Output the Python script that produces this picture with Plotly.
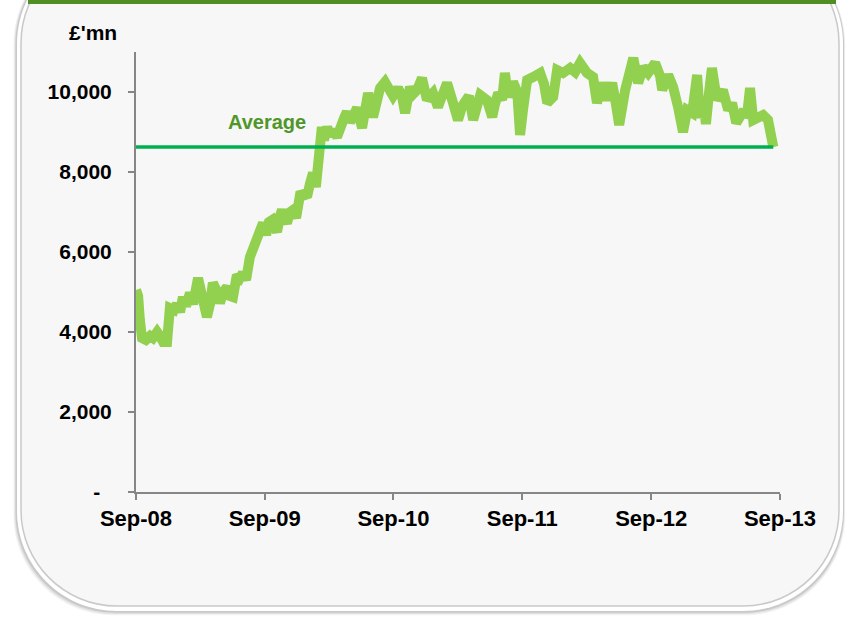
import pandas as pd
import plotly.graph_objects as go

# ---- data ----
start_date = "2008-09-01"
day_offsets = [0, 6, 11, 17, 28, 40, 48, 60, 68, 77, 88, 96, 108, 116, 125, 133, 142, 153, 162, 176,
               190, 201, 210, 218, 230, 238, 247, 258, 267, 275, 286, 295, 303, 312, 323, 337, 346, 355, 360, 369,
               377, 386, 400, 408, 414, 423, 428, 437, 445, 454, 465, 476, 485, 493, 502, 510, 516, 522, 527, 533,
               542, 550, 559, 570, 579, 590, 598, 607, 615, 627, 641, 649, 658, 672, 681, 692, 706, 720, 729, 743,
               754, 763, 777, 786, 797, 811, 825, 834, 842, 856, 871, 882, 899, 913, 925, 933, 944, 956, 967, 976,
               995, 1010, 1018, 1027, 1038, 1046, 1055, 1069, 1081, 1089, 1098, 1109, 1126, 1146, 1157, 1166, 1183, 1194, 1211, 1231,
               1245, 1259, 1279, 1296, 1307, 1322, 1336, 1350, 1358, 1370, 1387, 1401, 1410, 1424, 1438, 1452, 1463, 1472, 1486, 1492,
               1509, 1523, 1537, 1551, 1563, 1577, 1591, 1599, 1608, 1616, 1625, 1633, 1647, 1664, 1679, 1690, 1702, 1719, 1733, 1741,
               1750, 1764, 1778, 1792, 1798, 1807]
values = [5050, 4900, 4300, 3850, 3800, 3900, 3850, 4000, 3900, 3750, 3750, 4600, 4550, 4700, 4500, 4875, 4650, 4975, 4700, 5350,
          4800, 4375, 4700, 5225, 5000, 4725, 5000, 5125, 4900, 4875, 5425, 5350, 5475, 5300, 5875, 6225, 6500, 6600, 6725, 6425,
          6750, 6800, 6500, 6900, 7050, 6800, 6725, 7000, 7050, 6850, 7425, 7450, 7375, 7700, 7975, 7625, 8200, 8500, 9125, 8800,
          9125, 8900, 9050, 8875, 9150, 9350, 9500, 9250, 9375, 9600, 9100, 9600, 9975, 9375, 9800, 10100, 10250, 10050, 9900, 10100,
          9900, 9475, 10125, 9950, 10050, 10350, 9800, 9900, 9975, 9625, 9900, 10225, 9725, 9300, 9650, 9750, 9900, 9300, 9700, 9925,
          9800, 9375, 9700, 9975, 9800, 10475, 9875, 10250, 10000, 8925, 9600, 10300, 10375, 10475, 10200, 9725, 9875, 10550, 10475, 10600,
          10500, 10725, 10475, 10375, 9725, 10225, 9800, 10225, 9850, 9175, 10050, 10600, 10850, 10225, 10625, 10475, 10650, 10725, 10400, 10050,
          10425, 10125, 9625, 9000, 9550, 9475, 10425, 9350, 9800, 9200, 10000, 10600, 9800, 10050, 9550, 9725, 9225, 9475, 9450, 10100,
          9300, 9375, 9425, 9300, 8850, 8625]
average_value = 8625
tick_dates = ["2008-09-01", "2009-09-01", "2010-09-01", "2011-09-01", "2012-09-01", "2013-09-01"]
tick_labels = ["Sep-08", "Sep-09", "Sep-10", "Sep-11", "Sep-12", "Sep-13"]
y_ticks = [0, 2000, 4000, 6000, 8000, 10000]
y_tick_labels = ["-\u00a0\u00a0", "2,000", "4,000", "6,000", "8,000", "10,000"]
unit_label = "£'mn"
average_label = "Average"

dates = pd.Timestamp(start_date) + pd.to_timedelta(day_offsets, unit="D")

# ---- layout geometry (pixels) ----
W, H = 849, 617
L, R, T, B = 136, 69, 52, 125
PW, PH = W - L - R, H - T - B


def px(x):
    return (x - L) / PW


def py(y):
    return (H - B - y) / PH


def rrect(x0, y0, x1, y1, r):
    k = 0.5523 * r
    pts = []
    pts.append(f"M {px(x0 + r)},{py(y0)}")
    pts.append(f"L {px(x1 - r)},{py(y0)}")
    pts.append(f"C {px(x1 - r + k)},{py(y0)} {px(x1)},{py(y0 + r - k)} {px(x1)},{py(y0 + r)}")
    pts.append(f"L {px(x1)},{py(y1 - r)}")
    pts.append(f"C {px(x1)},{py(y1 - r + k)} {px(x1 - r + k)},{py(y1)} {px(x1 - r)},{py(y1)}")
    pts.append(f"L {px(x0 + r)},{py(y1)}")
    pts.append(f"C {px(x0 + r - k)},{py(y1)} {px(x0)},{py(y1 - r + k)} {px(x0)},{py(y1 - r)}")
    pts.append(f"L {px(x0)},{py(y0 + r)}")
    pts.append(f"C {px(x0)},{py(y0 + r - k)} {px(x0 + r - k)},{py(y0)} {px(x0 + r)},{py(y0)}")
    pts.append("Z")
    return " ".join(pts)


shapes = []
# soft shadow
for off, col in [(7, "rgba(0,0,0,0.05)"), (5, "rgba(0,0,0,0.07)"), (3, "rgba(0,0,0,0.10)")]:
    shapes.append(dict(type="path", xref="paper", yref="paper", layer="below",
                       path=rrect(17 - off * 0.5, -56, 843 + off * 0.3, 611 + off * 0.6, 100),
                       fillcolor=col, line=dict(width=0)))
# white border
shapes.append(dict(type="path", xref="paper", yref="paper", layer="below",
                   path=rrect(17, -56, 843, 611, 100), fillcolor="#FFFFFF", line=dict(width=0)))
# inner panel
shapes.append(dict(type="path", xref="paper", yref="paper", layer="below",
                   path=rrect(21, -53, 839, 606, 96), fillcolor="#F7F7F7",
                   line=dict(color="#C9C9C9", width=1.5)))
# green header bar
shapes.append(dict(type="rect", xref="paper", yref="paper", layer="below",
                   x0=px(28), x1=px(836), y0=py(4), y1=py(-10),
                   fillcolor="#4E8F23", line=dict(width=0)))

fig = go.Figure()
fig.add_trace(go.Scatter(x=dates, y=values, mode="lines",
                         line=dict(color="#92D050", width=10), showlegend=False,
                         hoverinfo="x+y"))
fig.add_trace(go.Scatter(x=[dates[0], dates[-1]], y=[average_value, average_value], mode="lines",
                         line=dict(color="#00B050", width=3.5), showlegend=False))

fig.update_layout(
    width=W, height=H,
    margin=dict(l=L, r=R, t=T, b=B, pad=0),
    paper_bgcolor="#FFFFFF",
    plot_bgcolor="rgba(0,0,0,0)",
    font=dict(family="Liberation Sans, Arial, sans-serif", size=20, color="#000000"),
    shapes=shapes,
    xaxis=dict(range=[tick_dates[0], tick_dates[-1]], tickmode="array",
               tickvals=tick_dates, ticktext=tick_labels,
               showgrid=False, zeroline=False, showline=True, linecolor="#868686", linewidth=2,
               ticks="outside", ticklen=6, tickwidth=2, tickcolor="#868686",
               tickfont=dict(family="Liberation Sans, Arial, sans-serif", size=22, color="#000000",
                             weight="bold")),
    yaxis=dict(range=[0, 11000], tickmode="array", tickvals=y_ticks, ticktext=y_tick_labels,
               showgrid=False, zeroline=False, showline=True, linecolor="#868686", linewidth=2,
               ticks="outside", ticklen=6, tickwidth=2, tickcolor="#868686", ticklabelstandoff=12,
               tickfont=dict(family="Liberation Sans, Arial, sans-serif", size=21, color="#000000",
                             weight="bold")),
    annotations=[
        dict(text=f"<b>{unit_label}</b>", xref="paper", yref="paper", x=px(67), y=py(33),
             xanchor="left", yanchor="middle", showarrow=False,
             font=dict(size=21, color="#000000")),
        dict(text=f"<b>{average_label}</b>", xref="paper", yref="paper", x=px(267), y=py(122),
             xanchor="center", yanchor="middle", showarrow=False,
             font=dict(size=20, color="#509628")),
    ],
)

fig.write_html("out.html", config={"displayModeBar": False},
               post_script="document.body.style.margin='0px';document.body.style.overflow='hidden';")
